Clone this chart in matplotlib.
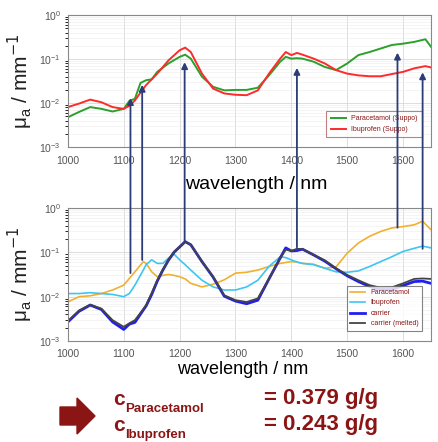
import matplotlib
matplotlib.use('Agg')
import matplotlib.pyplot as plt
from matplotlib.patches import ConnectionPatch, Polygon
import numpy as np

plt.rcParams['font.family'] = ['Liberation Sans', 'DejaVu Sans']

# ---------------------------------------------------
# top panel: suppositories
wl_top = [1000, 1020, 1040, 1060, 1080, 1100, 1110, 1120, 1130, 1140, 1150, 1160, 1180,
          1200, 1210, 1220, 1240, 1260, 1280, 1300, 1320, 1340, 1360, 1380, 1390, 1400,
          1410, 1420, 1440, 1460, 1480, 1500, 1520, 1540, 1560, 1580, 1600, 1620, 1640, 1650]
log_para_suppo = [-2.32, -2.20, -2.09, -2.13, -2.19, -2.13, -1.95, -1.90, -1.54, -1.48, -1.46,
                  -1.29, -1.10, -0.95, -0.90, -0.99, -1.40, -1.63, -1.71, -1.70, -1.70, -1.65,
                  -1.37, -1.06, -0.95, -0.99, -0.98, -0.99, -1.06, -1.18, -1.25, -1.10, -0.91,
                  -0.84, -0.76, -0.68, -0.65, -0.61, -0.55, -0.72]
log_ibu_suppo = [-2.09, -2.01, -1.92, -1.98, -2.09, -2.13, -2.06, -1.94, -1.76, -1.59, -1.46,
                 -1.33, -1.03, -0.80, -0.74, -0.84, -1.33, -1.67, -1.78, -1.81, -1.82, -1.71,
                 -1.33, -0.99, -0.84, -0.91, -0.86, -0.90, -0.99, -1.10, -1.25, -1.33, -1.37,
                 -1.39, -1.39, -1.34, -1.29, -1.21, -1.16, -1.19]

# bottom panel: reference spectra
wl_bot = [1000, 1020, 1040, 1060, 1080, 1100, 1110, 1120, 1135, 1140, 1150, 1160, 1170, 1180,
          1190, 1200, 1210, 1220, 1240, 1260, 1280, 1300, 1320, 1340, 1360, 1380, 1390, 1400,
          1410, 1420, 1440, 1460, 1480, 1500, 1520, 1540, 1560, 1580, 1600, 1620, 1635, 1650]
log_para = [-2.12, -2.00, -1.98, -1.93, -1.85, -1.74, -1.59, -1.44, -1.21, -1.25, -1.44, -1.55,
            -1.52, -1.50, -1.52, -1.55, -1.60, -1.70, -1.78, -1.72, -1.62, -1.47, -1.45, -1.40,
            -1.32, -1.25, -1.23, -1.21, -1.22, -1.25, -1.27, -1.36, -1.33, -1.02, -0.79, -0.64,
            -0.53, -0.45, -0.42, -0.38, -0.30, -0.49]
log_ibu = [-1.93, -1.93, -1.91, -1.93, -1.95, -2.00, -1.93, -1.74, -1.40, -1.28, -1.17, -1.25,
           -1.25, -1.13, -1.04, -1.17, -1.28, -1.40, -1.63, -1.78, -1.85, -1.85, -1.78, -1.63,
           -1.32, -1.10, -1.12, -1.17, -1.22, -1.25, -1.28, -1.36, -1.44, -1.45, -1.42, -1.32,
           -1.21, -1.10, -0.98, -0.91, -0.86, -0.90]
log_carrier = [-2.57, -2.33, -2.19, -2.29, -2.57, -2.74, -2.62, -2.58, -2.30, -2.21, -1.95,
               -1.65, -1.40, -1.18, -1.00, -0.88, -0.76, -0.83, -1.21, -1.56, -1.99, -2.10,
               -2.16, -2.08, -1.60, -1.13, -0.90, -0.97, -0.96, -0.93, -1.06, -1.20, -1.37,
               -1.53, -1.66, -1.77, -1.84, -1.84, -1.75, -1.66, -1.65, -1.70]
log_carrier_melted = [-2.55, -2.31, -2.18, -2.27, -2.53, -2.68, -2.60, -2.53, -2.28, -2.19,
                      -1.92, -1.63, -1.39, -1.17, -0.99, -0.87, -0.76, -0.83, -1.21, -1.55,
                      -1.97, -2.08, -2.12, -2.04, -1.59, -1.13, -0.94, -0.97, -0.92, -0.93,
                      -1.06, -1.18, -1.36, -1.51, -1.63, -1.74, -1.80, -1.79, -1.70, -1.60,
                      -1.59, -1.60]

# arrows: wavelength, start (bottom panel), end (top panel)
arrow_wl = [1112, 1133, 1209, 1410, 1590, 1635]
arrow_from = [0.034, 0.067, 0.17, 0.13, 0.36, 0.12]
arrow_to = [0.013, 0.026, 0.085, 0.063, 0.14, 0.05]

conc_labels = ['Paracetamol', 'Ibuprofen']
conc_values = [0.379, 0.243]

# ---------------------------------------------------

fig = plt.figure(figsize=(4.38, 4.42), dpi=100)
ax1 = fig.add_axes([0.155, 0.667, 0.829, 0.299])
ax2 = fig.add_axes([0.155, 0.2285, 0.829, 0.301])

dark_red = '#8b1414'


def style_axis(ax):
    ax.set_yscale('log')
    ax.set_xlim(1000, 1650)
    ax.set_ylim(1e-3, 1)
    ax.set_xticks(np.arange(1000, 1601, 100))
    ax.set_yticks([1e-3, 1e-2, 1e-1, 1])
    ax.grid(True, which='major', color='#d8d8d8', lw=0.6)
    ax.grid(True, which='minor', color='#ececec', lw=0.4)
    ax.tick_params(labelsize=7.5, colors='#555555', length=0)
    ax.tick_params(axis='y', pad=5)
    ax.tick_params(axis='x', pad=6)
    for s in ax.spines.values():
        s.set_color('#888888')
        s.set_linewidth(0.8)
    ax.set_ylabel('μ$_\\mathregular{a}$ / mm$^{-1}$', fontsize=15, labelpad=3,
                  color='#222222')


ax1.plot(wl_top, 10 ** np.array(log_para_suppo), color='#2ca02c', lw=1.4,
         label='Paracetamol (Suppo)')
ax1.plot(wl_top, 10 ** np.array(log_ibu_suppo), color='#ff2a2a', lw=1.4,
         label='Ibuprofen (Suppo)')
style_axis(ax1)
ax1.set_xlabel('wavelength / nm', fontsize=14)
ax1.xaxis.set_label_coords(0.52, -0.22)
leg1 = ax1.legend(loc='lower right', bbox_to_anchor=(0.985, 0.05), fontsize=5,
                  frameon=True, fancybox=False, handlelength=2.2, labelcolor=dark_red,
                  borderpad=0.6)
leg1.get_frame().set_edgecolor('#b06060')
leg1.get_frame().set_linewidth(0.8)

ax2.plot(wl_bot, 10 ** np.array(log_para), color='#f0b030', lw=1.2, label='Paracetamol')
ax2.plot(wl_bot, 10 ** np.array(log_ibu), color='#3ec6f0', lw=1.2, label='Ibuprofen')
ax2.plot(wl_bot, 10 ** np.array(log_carrier), color='#2020ee', lw=2.0, label='carrier')
ax2.plot(wl_bot, 10 ** np.array(log_carrier_melted), color='#444444', lw=1.3,
         label='carrier (melted)')
style_axis(ax2)
ax2.set_xlabel('wavelength / nm', fontsize=13)
ax2.xaxis.set_label_coords(0.48, -0.15)
leg2 = ax2.legend(loc='lower right', bbox_to_anchor=(0.985, 0.05), fontsize=5,
                  frameon=True, fancybox=False, handlelength=2.2, labelcolor=dark_red,
                  borderpad=0.5)
leg2.get_frame().set_edgecolor('#666666')
leg2.get_frame().set_linewidth(0.8)

for w, a, b in zip(arrow_wl, arrow_from, arrow_to):
    con = ConnectionPatch(xyA=(w, a), coordsA=ax2.transData, xyB=(w, b),
                          coordsB=ax1.transData, arrowstyle='-|>', color='#2b3c78',
                          lw=1.3, mutation_scale=9)
    fig.add_artist(con)

# big arrow pointing to the results
arrow_px = [(60, 407), (77, 407), (77, 398), (95, 416), (77, 434), (77, 425), (60, 425)]
fig.patches.append(Polygon([(px / 438, 1 - py / 442) for px, py in arrow_px],
                           closed=True, color=dark_red, transform=fig.transFigure))

for i, (name, val) in enumerate(zip(conc_labels, conc_values)):
    yb = 1 - (405 + 26 * i) / 442
    fig.text(113 / 438, yb, 'c', fontsize=15, fontweight='bold', color=dark_red,
             va='baseline')
    fig.text(125 / 438, yb - 7 / 442, name, fontsize=9.5, fontweight='bold',
             color=dark_red, va='baseline')
    fig.text(264 / 438, yb + 1 / 442, '= %.3f g/g' % val, fontsize=16, fontweight='bold',
             color=dark_red, va='baseline')

fig.savefig('out.png', dpi=100)
